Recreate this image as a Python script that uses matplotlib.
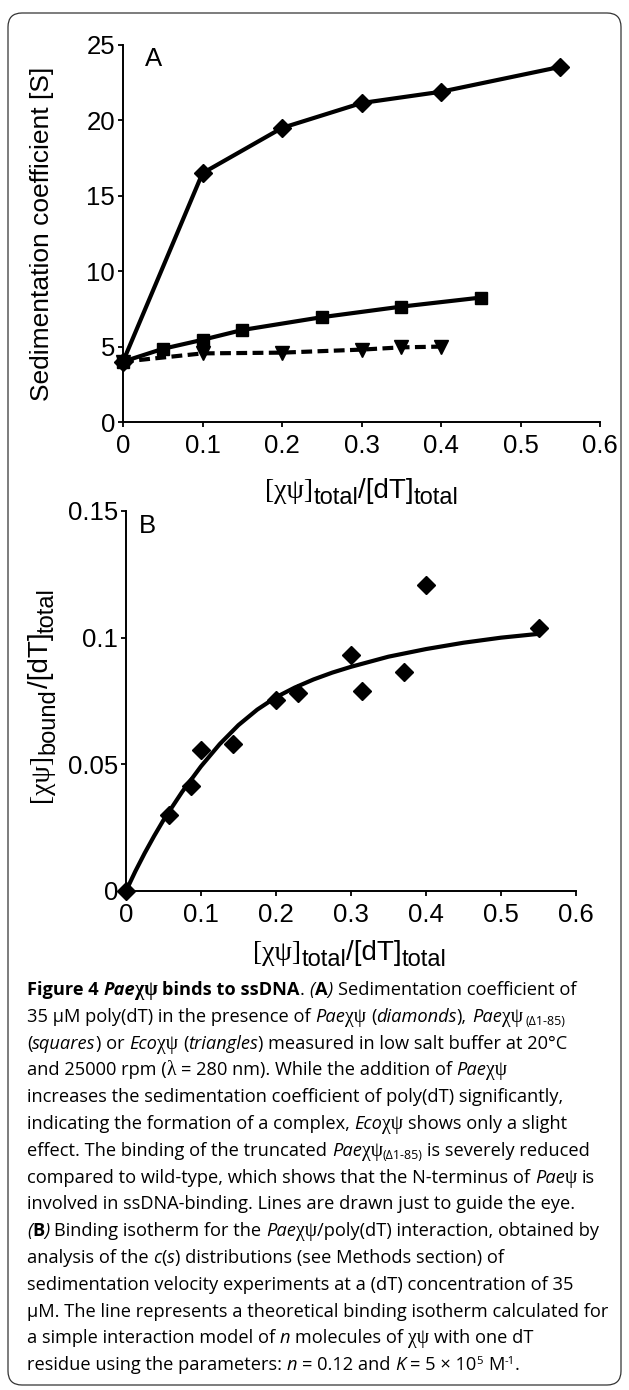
import matplotlib
matplotlib.use('Agg')
import matplotlib.pyplot as plt
from matplotlib.patches import FancyBboxPatch
from matplotlib.transforms import IdentityTransform

plt.rcParams['font.family'] = ['Liberation Sans', 'DejaVu Sans']

# panel A: sedimentation coefficient vs ratio
a_x_pae = [0, 0.1, 0.2, 0.3, 0.4, 0.55]
a_s_pae = [4.0, 16.5, 19.5, 21.15, 21.9, 23.55]
a_x_trunc = [0, 0.05, 0.1, 0.15, 0.25, 0.35, 0.45]
a_s_trunc = [4.0, 4.85, 5.45, 6.1, 6.95, 7.65, 8.25]
a_x_eco = [0, 0.1, 0.2, 0.3, 0.35, 0.4]
a_s_eco = [4.0, 4.55, 4.6, 4.8, 4.95, 5.0]

# panel B: binding isotherm
b_x = [0, 0.057, 0.086, 0.1, 0.143, 0.2, 0.229, 0.3, 0.314, 0.371, 0.4, 0.55]
b_y = [0, 0.030, 0.0414, 0.0557, 0.0579, 0.0752, 0.078, 0.0932, 0.0789, 0.0864, 0.1207, 0.1038]
fit_x = [0, 0.0125, 0.025, 0.0375, 0.05, 0.075, 0.1, 0.125, 0.15, 0.175, 0.2, 0.225,
         0.25, 0.275, 0.3, 0.35, 0.4, 0.45, 0.5, 0.55]
fit_y = [0, 0.0078, 0.0150, 0.0217, 0.0280, 0.0392, 0.0492, 0.0580, 0.0655, 0.0716, 0.0765, 0.0803,
         0.0835, 0.0862, 0.0885, 0.0925, 0.0955, 0.0980, 0.1000, 0.1015]

a_xticks = [0, 0.1, 0.2, 0.3, 0.4, 0.5, 0.6]
a_xticklabels = ['0', '0.1', '0.2', '0.3', '0.4', '0.5', '0.6']
a_yticks = [0, 5, 10, 15, 20, 25]
b_yticks = [0, 0.05, 0.1, 0.15]
b_yticklabels = ['0', '0.05', '0.1', '0.15']

xlabel_segs = [('[χψ]', 'G'), ('total', 'S'), ('/[dT]', 'L'), ('total', 'S')]
ylabel_b_segs = [('[χψ]', 'G'), ('bound', 'S'), ('/[dT]', 'L'), ('total', 'S')]

W, H = 629, 1390
fig = plt.figure(figsize=(W / 100, H / 100), dpi=100)
fig.patch.set_facecolor('white')
renderer = fig.canvas.get_renderer()

# style -> (font properties, size factor, baseline shift in px, + is up)
STY = {
    'n': (dict(family='Open Sans'), 1.0, 0),
    'i': (dict(family='Open Sans', style='italic'), 1.0, 0),
    'b': (dict(family='Open Sans', weight='bold'), 1.0, 0),
    'bi': (dict(family='Open Sans', weight='bold', style='italic'), 1.0, 0),
    'g': (dict(family='Liberation Serif'), 1.08, 0),
    'gb': (dict(family='Liberation Serif', weight='bold'), 1.08, 0),
    'sub': (dict(family='Open Sans'), 0.68, -3),
    'sup': (dict(family='Open Sans'), 0.62, 6),
    'L': (dict(family='Liberation Sans'), 1.0, 0),
    'G': (dict(family='Liberation Serif'), 1.0, 0),
    'S': (dict(family='Liberation Sans'), 0.85, -6),
}


def text_w(s, props, fs):
    t = fig.text(0, 0, s, fontsize=fs, **props)
    w = t.get_window_extent(renderer).width
    t.remove()
    return w


def put_line(x, y, segs, size, draw=True, rot=0):
    # x, y in pixels from top-left; rot=90 writes upward from (x, y)
    pos = x if rot == 0 else y
    for txt, st in segs:
        props, scale, dy = STY[st]
        fs = size * scale
        spw = text_w('a a', props, fs) - text_w('aa', props, fs)
        core = txt.strip(' ')
        step = (len(txt) - len(txt.lstrip(' '))) * spw
        pos += step if rot == 0 else -step
        if core:
            w = text_w(core, props, fs)
            if draw:
                if rot == 0:
                    fig.text(pos / W, 1 - (y - dy) / H, core, fontsize=fs, va='baseline',
                             ha='left', **props)
                else:
                    fig.text((x - dy) / W, 1 - pos / H, core, fontsize=fs, va='baseline',
                             ha='left', rotation=90, rotation_mode='anchor', **props)
            pos += w if rot == 0 else -w
        step = (len(txt) - len(txt.rstrip(' '))) * spw
        pos += step if rot == 0 else -step
    return pos


def label_centered(cx, cy, segs, size, rot=0):
    length = put_line(0, 0, segs, size, draw=False)
    if rot == 0:
        put_line(cx - length / 2, cy, segs, size)
    else:
        put_line(cx, cy + length / 2, segs, size, rot=90)


def px_axes(l, t, r, b):
    ax = fig.add_axes([l / W, 1 - b / H, (r - l) / W, (b - t) / H])
    ax.patch.set_visible(False)
    return ax


def style_axes(ax):
    for s in ['top', 'right']:
        ax.spines[s].set_visible(False)
    for s in ['left', 'bottom']:
        ax.spines[s].set_linewidth(1.4)
    ax.tick_params(direction='out', length=3.8, width=1.3, labelsize=18.5)
    ax.tick_params(axis='x', pad=5)
    ax.tick_params(axis='y', pad=2)


# ---- panel A
axA = px_axes(123, 45, 600, 422)
style_axes(axA)
axA.plot(a_x_pae, a_s_pae, color='black', lw=3, marker='D', ms=9, clip_on=False)
axA.plot(a_x_trunc, a_s_trunc, color='black', lw=3, marker='s', ms=8, clip_on=False)
axA.plot(a_x_eco, a_s_eco, color='black', lw=3, ls=(0, (2.6, 1.3)), marker='v', ms=9.5, clip_on=False)
axA.set_xlim(0, 0.6)
axA.set_ylim(0, 25)
axA.set_xticks(a_xticks)
axA.set_xticklabels(a_xticklabels)
axA.set_yticks(a_yticks)
axA.set_ylabel('Sedimentation coefficient [S]', fontsize=19)
axA.yaxis.set_label_coords(-69 / 477, 0.5)
axA.text(0.046, 0.963, 'A', transform=axA.transAxes, fontsize=18.5, va='center', ha='left')
label_centered(362, 498, xlabel_segs, 20)

# ---- panel B
axB = px_axes(126, 511, 576, 891)
style_axes(axB)
axB.plot(fit_x, fit_y, color='black', lw=3, solid_capstyle='butt', solid_joinstyle='round',
         clip_on=False)
axB.plot(b_x, b_y, ls='none', color='black', marker='D', ms=9, clip_on=False)
axB.set_xlim(0, 0.6)
axB.set_ylim(0, 0.15)
axB.set_xticks(a_xticks)
axB.set_xticklabels(a_xticklabels)
axB.set_yticks(b_yticks)
axB.set_yticklabels(b_yticklabels)
axB.text(0.029, 0.96, 'B', transform=axB.transAxes, fontsize=18.5, va='center', ha='left')
label_centered(350, 960, xlabel_segs, 20)
label_centered(48, 695, ylabel_b_segs, 20, rot=90)

# ---- rounded frame
frame = FancyBboxPatch((8, H - 1385), 613, 1372, boxstyle='round,pad=0,rounding_size=14',
                       transform=IdentityTransform(), fill=False, lw=0.9, ec='#333333')
fig.patches.append(frame)

# ---- caption
caption = [
    [('Figure 4 ', 'b'), ('Pae', 'bi'), ('χψ', 'gb'), (' binds to ssDNA', 'b'), ('. ', 'n'),
     ('(', 'i'), ('A', 'b'), (')', 'i'), (' Sedimentation coefficient of', 'n')],
    [('35 µM poly(dT) in the presence of ', 'n'), ('Pae', 'i'), ('χψ', 'g'), (' (', 'n'),
     ('diamonds', 'i'), ('), ', 'n'), ('Pae', 'i'), ('χψ', 'g'), (' (Δ1-85)', 'sub')],
    [('(', 'n'), ('squares', 'i'), (') or ', 'n'), ('Eco', 'i'), ('χψ', 'g'), (' (', 'n'),
     ('triangles', 'i'), (') measured in low salt buffer at 20°C', 'n')],
    [('and 25000 rpm (', 'n'), ('λ', 'g'), (' = 280 nm). While the addition of ', 'n'),
     ('Pae', 'i'), ('χψ', 'g')],
    [('increases the sedimentation coefficient of poly(dT) significantly,', 'n')],
    [('indicating the formation of a complex, ', 'n'), ('Eco', 'i'), ('χψ', 'g'),
     (' shows only a slight', 'n')],
    [('effect. The binding of the truncated ', 'n'), ('Pae', 'i'), ('χψ', 'g'), ('(Δ1-85)', 'sub'),
     (' is severely reduced', 'n')],
    [('compared to wild-type, which shows that the N-terminus of ', 'n'), ('Pae', 'i'),
     ('ψ', 'g'), (' is', 'n')],
    [('involved in ssDNA-binding. Lines are drawn just to guide the eye.', 'n')],
    [('(', 'i'), ('B', 'b'), (')', 'i'), (' Binding isotherm for the ', 'n'), ('Pae', 'i'),
     ('χψ', 'g'), ('/poly(dT) interaction, obtained by', 'n')],
    [('analysis of the ', 'n'), ('c', 'i'), ('(', 'n'), ('s', 'i'),
     (') distributions (see Methods section) of', 'n')],
    [('sedimentation velocity experiments at a (dT) concentration of 35', 'n')],
    [('µM. The line represents a theoretical binding isotherm calculated for', 'n')],
    [('a simple interaction model of ', 'n'), ('n', 'i'), (' molecules of ', 'n'), ('χψ', 'g'),
     (' with one dT', 'n')],
    [('residue using the parameters: ', 'n'), ('n', 'i'), (' = 0.12 and ', 'n'), ('K', 'i'),
     (' = 5 × 10', 'n'), ('5', 'sup'), (' M', 'n'), ('-1', 'sup'), ('.', 'n')],
]

# size the caption so the widest line fits inside the frame
x0 = 27
widest = max(put_line(x0, 0, segs, 10, draw=False) - x0 for segs in caption)
cap_size = 10 * 582 / widest

for i, segs in enumerate(caption):
    put_line(x0, 995 + 26.8 * i, segs, cap_size)

fig.savefig('out.png', dpi=100, facecolor='white')
